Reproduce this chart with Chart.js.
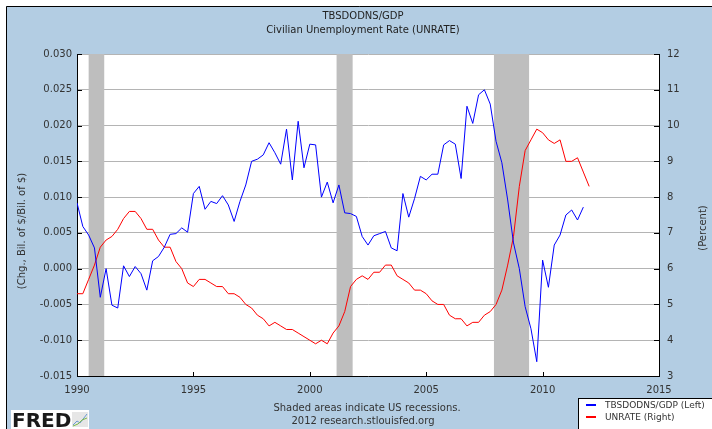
<!DOCTYPE html>
<html>
<head>
<meta charset="utf-8">
<script src="https://cdn.jsdelivr.net/npm/chart.js@4.4.1/dist/chart.umd.min.js"></script>
<style>
  html, body { margin: 0; padding: 0; background: #fff; }
  #wrap { width: 712px; height: 429px; }
</style>
</head>
<body>
<div id="wrap"><canvas id="fredChart" width="712" height="429"></canvas></div>
<script>
// Quarterly series, first quarter = 1990 Q1
const firstYear = 1990;
const tbsdodnsGdp = [
  0.0092, 0.0059, 0.0047, 0.0029,   // 1990
  -0.0040, 0.0000, -0.0051, -0.0055, // 1991
  0.0004, -0.0011, 0.0003, -0.0007, // 1992
  -0.0030, 0.0011, 0.0017, 0.0030,  // 1993
  0.0048, 0.0049, 0.0057, 0.0051,   // 1994
  0.0105, 0.0115, 0.0083, 0.0094,   // 1995
  0.0091, 0.0102, 0.0089, 0.0066,   // 1996
  0.0094, 0.0117, 0.0150, 0.0153,   // 1997
  0.0159, 0.0176, 0.0162, 0.0146,   // 1998
  0.0195, 0.0124, 0.0206, 0.0141,   // 1999
  0.0174, 0.0173, 0.0100, 0.0121,   // 2000
  0.0092, 0.0117, 0.0078, 0.0077,   // 2001
  0.0073, 0.0045, 0.0033, 0.0046,   // 2002
  0.0049, 0.0052, 0.0029, 0.0025,   // 2003
  0.0105, 0.0072, 0.0098, 0.0129,   // 2004
  0.0124, 0.0132, 0.0132, 0.0173,   // 2005
  0.0179, 0.0174, 0.0126, 0.0227,   // 2006
  0.0203, 0.0243, 0.0250, 0.0230,   // 2007
  0.0178, 0.0148, 0.0096, 0.0036,   // 2008
  0.0000, -0.0053, -0.0084, -0.0130, // 2009
  0.0012, -0.0026, 0.0033, 0.0047,  // 2010
  0.0075, 0.0082, 0.0068, 0.0086    // 2011
];
const unrate = [
  5.3, 5.3, 5.7, 6.1,  // 1990
  6.6, 6.8, 6.9, 7.1,  // 1991
  7.4, 7.6, 7.6, 7.4,  // 1992
  7.1, 7.1, 6.8, 6.6,  // 1993
  6.6, 6.2, 6.0, 5.6,  // 1994
  5.5, 5.7, 5.7, 5.6,  // 1995
  5.5, 5.5, 5.3, 5.3,  // 1996
  5.2, 5.0, 4.9, 4.7,  // 1997
  4.6, 4.4, 4.5, 4.4,  // 1998
  4.3, 4.3, 4.2, 4.1,  // 1999
  4.0, 3.9, 4.0, 3.9,  // 2000
  4.2, 4.4, 4.8, 5.5,  // 2001
  5.7, 5.8, 5.7, 5.9,  // 2002
  5.9, 6.1, 6.1, 5.8,  // 2003
  5.7, 5.6, 5.4, 5.4,  // 2004
  5.3, 5.1, 5.0, 5.0,  // 2005
  4.7, 4.6, 4.6, 4.4,  // 2006
  4.5, 4.5, 4.7, 4.8,  // 2007
  5.0, 5.4, 6.1, 6.9,  // 2008
  8.3, 9.3, 9.6, 9.9,  // 2009
  9.8, 9.6, 9.5, 9.6,  // 2010
  9.0, 9.0, 9.1, 8.7,  // 2011
  8.3                  // 2012
];
const recessions = [[1990.5, 1991.17], [2001.15, 2001.84], [2007.91, 2009.42]];
const xTicks = [1990, 1995, 2000, 2005, 2010, 2015];
const leftTicks = [-0.015, -0.010, -0.005, 0.000, 0.005, 0.010, 0.015, 0.020, 0.025, 0.030];
const rightTicks = [3, 4, 5, 6, 7, 8, 9, 10, 11, 12];
const titleLines = ['TBSDODNS/GDP', 'Civilian Unemployment Rate (UNRATE)'];
const seriesNames = ['TBSDODNS/GDP (Left)', 'UNRATE (Right)'];

const toPoints = arr => arr.map((v, i) => ({ x: firstYear + i / 4, y: v }));

const FONT = "'DejaVu Sans', Verdana, sans-serif";
const BLUE_BG = '#B3CDE3';

// panel background, frame and white plot area
const backdrop = {
  id: 'backdrop',
  beforeDraw(chart) {
    const { ctx, chartArea: a } = chart;
    ctx.save();
    ctx.fillStyle = '#fff';
    ctx.fillRect(0, 0, chart.width, chart.height);
    ctx.fillStyle = BLUE_BG;
    ctx.fillRect(6, 6, chart.width - 6, chart.height - 6);
    ctx.strokeStyle = '#000';
    ctx.lineWidth = 1;
    ctx.beginPath();
    ctx.moveTo(6.5, chart.height);
    ctx.lineTo(6.5, 6.5);
    ctx.lineTo(chart.width, 6.5);
    ctx.stroke();
    ctx.fillStyle = '#fff';
    ctx.fillRect(a.left, a.top, a.right - a.left, a.bottom - a.top);
    ctx.restore();
  }
};

// grey recession bars
const recessionBars = {
  id: 'recessionBars',
  beforeDatasetsDraw(chart) {
    const { ctx, chartArea: a, scales: { x } } = chart;
    ctx.save();
    ctx.fillStyle = '#BEBEBE';
    recessions.forEach(([s, e]) => {
      const x0 = x.getPixelForValue(s), x1 = x.getPixelForValue(e);
      ctx.fillRect(x0, a.top, x1 - x0, a.bottom - a.top);
    });
    ctx.restore();
  }
};

// inward tick marks, titles, legend, footer
const decorations = {
  id: 'decorations',
  afterDraw(chart) {
    const { ctx, chartArea: a, scales: { x, y, y1 } } = chart;
    ctx.save();
    ctx.strokeStyle = '#000';
    ctx.lineWidth = 1;
    ctx.beginPath();
    leftTicks.forEach(v => {
      const py = Math.round(y.getPixelForValue(v)) + 0.5;
      ctx.moveTo(a.left, py); ctx.lineTo(a.left + 5, py);
    });
    rightTicks.forEach(v => {
      const py = Math.round(y1.getPixelForValue(v)) + 0.5;
      ctx.moveTo(a.right - 5, py); ctx.lineTo(a.right, py);
    });
    xTicks.forEach(v => {
      const px = Math.round(x.getPixelForValue(v)) + 0.5;
      ctx.moveTo(px, a.bottom); ctx.lineTo(px, a.bottom - 4);
    });
    ctx.stroke();

    // title
    ctx.fillStyle = '#222';
    ctx.font = '10px ' + FONT;
    ctx.textAlign = 'center';
    ctx.textBaseline = 'middle';
    ctx.fillText(titleLines[0], 363, 16);
    ctx.fillText(titleLines[1], 363, 30);

    // axis titles
    ctx.fillStyle = '#333';
    ctx.save();
    ctx.translate(22, 231);
    ctx.rotate(-Math.PI / 2);
    ctx.fillText('(Chg., Bil. of $/Bil. of $)', 0, 0);
    ctx.restore();
    ctx.save();
    ctx.translate(703, 228);
    ctx.rotate(-Math.PI / 2);
    ctx.fillText('(Percent)', 0, 0);
    ctx.restore();

    // footer
    ctx.fillText('Shaded areas indicate US recessions.', 367, 408);
    ctx.fillText('2012 research.stlouisfed.org', 363, 421);

    // legend box
    ctx.fillStyle = '#fff';
    ctx.fillRect(579, 399, 140, 40);
    ctx.strokeStyle = '#000';
    ctx.strokeRect(578.5, 398.5, 140, 40);
    ctx.lineWidth = 2;
    ctx.strokeStyle = '#0000FF';
    ctx.beginPath(); ctx.moveTo(586, 405); ctx.lineTo(596, 405); ctx.stroke();
    ctx.strokeStyle = '#FF0000';
    ctx.beginPath(); ctx.moveTo(586, 417); ctx.lineTo(596, 417); ctx.stroke();
    ctx.fillStyle = '#333';
    ctx.font = '9px ' + FONT;
    ctx.textAlign = 'left';
    ctx.fillText(seriesNames[0], 605, 406);
    ctx.fillText(seriesNames[1], 605, 418);

    // FRED logo
    ctx.fillStyle = '#fff';
    ctx.fillRect(11, 410, 78, 19);
    ctx.fillStyle = '#1a1a1a';
    ctx.font = 'bold 20px ' + FONT;
    ctx.textBaseline = 'alphabetic';
    ctx.fillText('FRED', 12, 427);
    ctx.fillStyle = '#e6e6e6';
    ctx.fillRect(72, 412, 16, 15);
    ctx.lineWidth = 1;
    ctx.strokeStyle = '#6a9bd0';
    ctx.beginPath(); ctx.moveTo(73, 425); ctx.lineTo(77, 421); ctx.lineTo(80, 423); ctx.lineTo(87, 414); ctx.stroke();
    ctx.strokeStyle = '#7dbb4a';
    ctx.beginPath(); ctx.moveTo(73, 426); ctx.lineTo(78, 424); ctx.lineTo(82, 420); ctx.lineTo(87, 418); ctx.stroke();
    ctx.restore();
  }
};

Chart.defaults.font.family = FONT;
Chart.defaults.font.size = 10;
Chart.defaults.color = '#333';

new Chart(document.getElementById('fredChart'), {
  type: 'line',
  data: {
    datasets: [
      {
        label: seriesNames[0],
        data: toPoints(tbsdodnsGdp),
        yAxisID: 'y',
        borderColor: '#0000FF',
        borderWidth: 1,
        pointRadius: 0,
        tension: 0,
        order: 1
      },
      {
        label: seriesNames[1],
        data: toPoints(unrate),
        yAxisID: 'y1',
        borderColor: '#FF0000',
        borderWidth: 1,
        pointRadius: 0,
        tension: 0,
        order: 2
      }
    ]
  },
  options: {
    responsive: false,
    animation: false,
    layout: { padding: { top: 54, left: 0, right: 0, bottom: 0 } },
    plugins: {
      legend: { display: false },
      tooltip: { enabled: false }
    },
    scales: {
      x: {
        type: 'linear',
        min: 1990,
        max: 2015,
        afterBuildTicks: s => { s.ticks = xTicks.map(v => ({ value: v })); },
        afterFit: s => { s.height = 53; },
        ticks: { padding: 8, maxRotation: 0, callback: v => String(v) },
        grid: { display: false, drawTicks: false },
        border: { display: true, color: '#000', width: 1 }
      },
      y: {
        position: 'left',
        min: -0.015,
        max: 0.03,
        afterBuildTicks: s => { s.ticks = leftTicks.map(v => ({ value: v })); },
        afterFit: s => { s.width = 77; },
        ticks: { padding: 5, callback: v => (Math.abs(v) < 1e-9 ? 0 : v).toFixed(3) },
        grid: { color: '#B4B4B4', lineWidth: 1, drawTicks: false },
        border: { display: true, color: '#000', width: 1 }
      },
      y1: {
        position: 'right',
        min: 3,
        max: 12,
        afterBuildTicks: s => { s.ticks = rightTicks.map(v => ({ value: v })); },
        afterFit: s => { s.width = 53; },
        ticks: { padding: 8, callback: v => String(v) },
        grid: { display: false, drawTicks: false },
        border: { display: true, color: '#000', width: 1 }
      }
    }
  },
  plugins: [backdrop, recessionBars, decorations]
});
</script>
</body>
</html>
